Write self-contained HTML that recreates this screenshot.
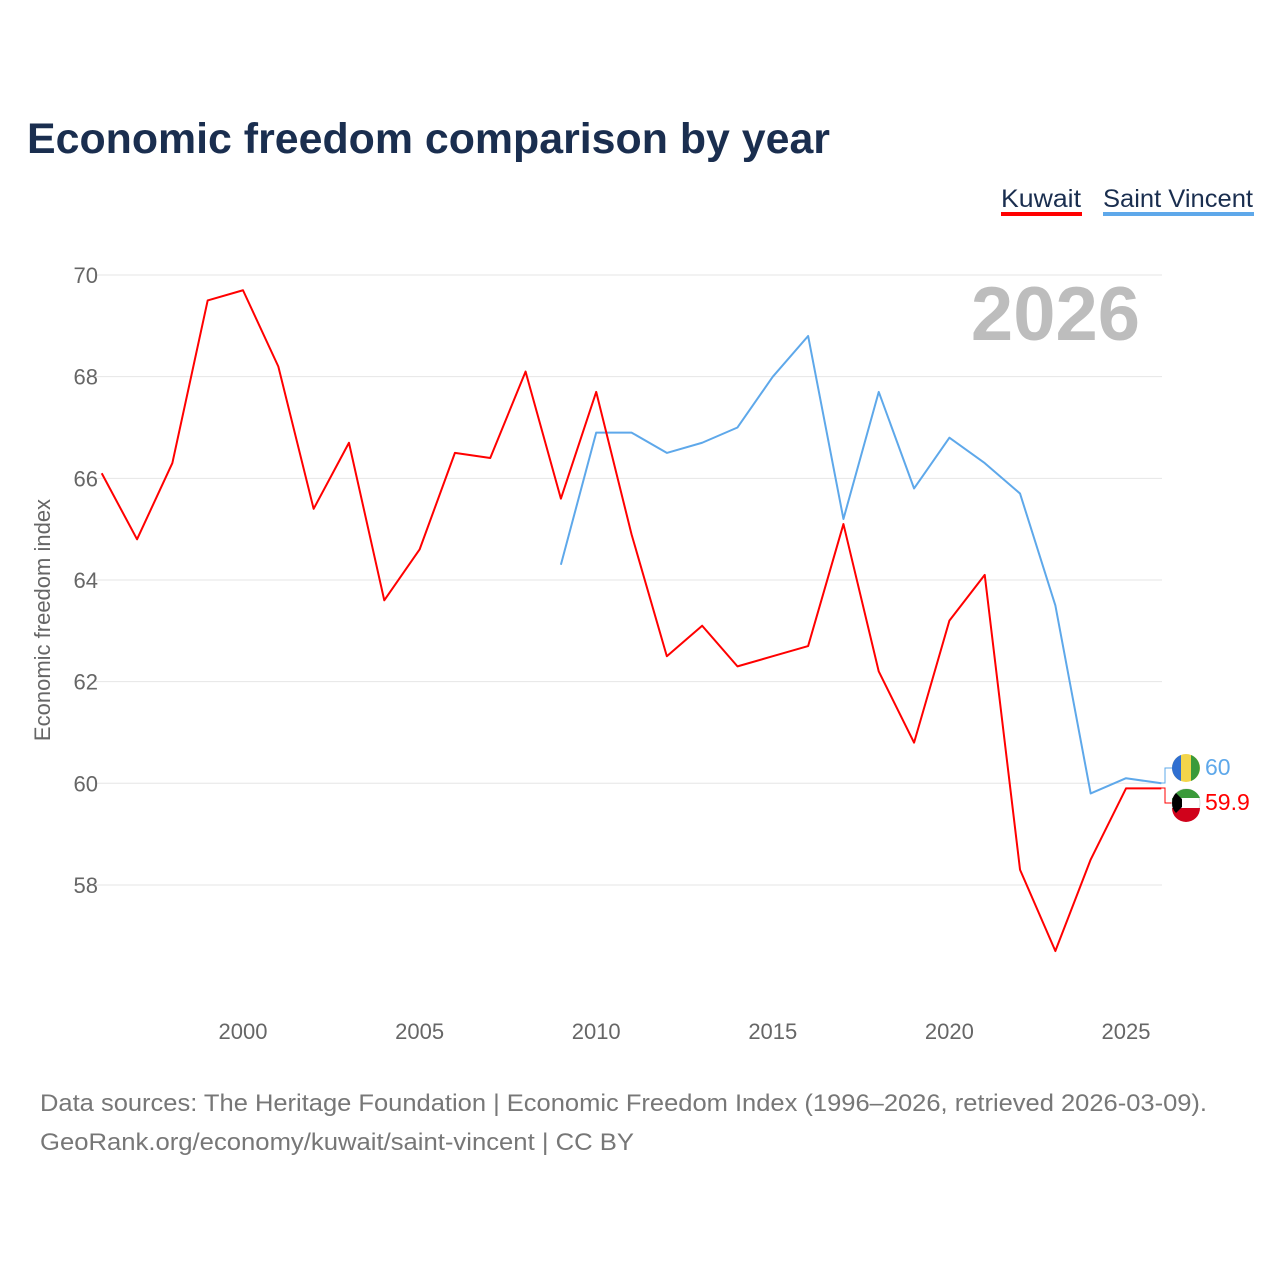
<!DOCTYPE html>
<html><head><meta charset="utf-8"><style>
body{margin:0;background:#fff;font-family:"Liberation Sans",sans-serif;}
</style></head><body>
<svg width="1280" height="1280" id="svg" xmlns="http://www.w3.org/2000/svg" font-family="Liberation Sans, sans-serif">
<rect width="1280" height="1280" fill="#fff"/>
<text x="27" y="153" font-size="43" font-weight="bold" fill="#1a2e4f" textLength="803" lengthAdjust="spacingAndGlyphs">Economic freedom comparison by year</text>
<g>
<text x="1001" y="207" font-size="25" fill="#1a2e4f" textLength="80" lengthAdjust="spacingAndGlyphs">Kuwait</text>
<rect x="1001" y="212" width="81" height="4" fill="#f00"/>
<text x="1103" y="207" font-size="25" fill="#1a2e4f" textLength="150" lengthAdjust="spacingAndGlyphs">Saint Vincent</text>
<rect x="1103" y="212" width="151" height="4" fill="#5ea8ea"/>
</g>
<text x="1140" y="340" font-size="76" font-weight="bold" fill="#bdbdbd" text-anchor="end">2026</text>
<text transform="translate(50,620) rotate(-90)" font-size="22" fill="#666" text-anchor="middle">Economic freedom index</text>
<g id="grid"></g><g id="lines"></g>
<g>
<polyline points="1161,783 1165,783 1165,768 1172,768" fill="none" stroke="#5ea8ea" stroke-width="1"/>
<polyline points="1161,788 1165,788 1165,803 1172,803" fill="none" stroke="#f00" stroke-width="1"/>
<circle cx="1186" cy="768" r="14" fill="#f3d54a"/><path d="M1172,768 a14,14 0 0 1 9,-13 v26 a14,14 0 0 1 -9,-13z" fill="#2f6fd1"/><path d="M1191,755 a14,14 0 0 1 0,26z" fill="#3a9a3a"/>
<text x="1205" y="775" font-size="23" fill="#5ea8ea">60</text>
<circle cx="1186" cy="803" r="14" fill="#fff" stroke="#ddd"/><path d="M1172,803 a14,14 0 0 1 14,-14 a14,14 0 0 1 14,9 h-28z" fill="#3a9a3a"/><path d="M1172,808 h28 a14,14 0 0 1 -28,0z" fill="#d0021b"/><path d="M1172,803 a14,14 0 0 1 4,-10 l6,6 v8 l-6,6 a14,14 0 0 1 -4,-10z" fill="#000"/>
<text x="1205" y="810" font-size="23" fill="#f00">59.9</text>
</g>
<text x="40" y="1111" font-size="24" fill="#777" textLength="1167" lengthAdjust="spacingAndGlyphs">Data sources: The Heritage Foundation | Economic Freedom Index (1996–2026, retrieved 2026-03-09).</text>
<text x="40" y="1150" font-size="24" fill="#777" textLength="594" lengthAdjust="spacingAndGlyphs">GeoRank.org/economy/kuwait/saint-vincent | CC BY</text>
</svg>
<script>
const kuwaitYears=[1996,1997,1998,1999,2000,2001,2002,2003,2004,2005,2006,2007,2008,2009,2010,2011,2012,2013,2014,2015,2016,2017,2018,2019,2020,2021,2022,2023,2024,2025,2026];
const kuwaitValues=[66.1,64.8,66.3,69.5,69.7,68.2,65.4,66.7,63.6,64.6,66.5,66.4,68.1,65.6,67.7,64.9,62.5,63.1,62.3,62.5,62.7,65.1,62.2,60.8,63.2,64.1,58.3,56.7,58.5,59.9,59.9];
const svcYears=[2009,2010,2011,2012,2013,2014,2015,2016,2017,2018,2019,2020,2021,2022,2023,2024,2025,2026];
const svcValues=[64.3,66.9,66.9,66.5,66.7,67.0,68.0,68.8,65.2,67.7,65.8,66.8,66.3,65.7,63.5,59.8,60.1,60.0];
const yTicks=[58,60,62,64,66,68,70];
const xTicks=[2000,2005,2010,2015,2020,2025];
const X=y=>243+(y-2000)*35.32;
const Y=v=>275+(70-v)*50.83;
const ns="http://www.w3.org/2000/svg";
const grid=document.getElementById('grid'),lines=document.getElementById('lines');
function mk(t,a,p){const e=document.createElementNS(ns,t);for(const k in a)e.setAttribute(k,a[k]);p.appendChild(e);return e;}
yTicks.forEach(v=>{
 const l=mk('line',{x1:95,x2:1162,y1:Y(v),y2:Y(v),stroke:'#e6e6e6','stroke-width':1},grid);
 
 
 const t=mk('text',{x:98,y:Y(v)+8,'font-size':22,fill:'#666','text-anchor':'end'},grid);t.textContent=v;
 
 
});
xTicks.forEach(v=>{
 const t=mk('text',{x:X(v),y:1039,'font-size':22,fill:'#666','text-anchor':'middle'},grid);t.textContent=v;
 
 
});
function line(xs,vs,c,name){
 const p=mk('polyline',{points:xs.map((y,i)=>X(y)+','+Y(vs[i])).join(' '),fill:'none',stroke:c,'stroke-width':2,'stroke-linejoin':'round'},lines);
 
 
}
line(svcYears,svcValues,'#5ea8ea','saint-vincent-line');
line(kuwaitYears,kuwaitValues,'#f00','kuwait-line');
</script>
</body></html>
